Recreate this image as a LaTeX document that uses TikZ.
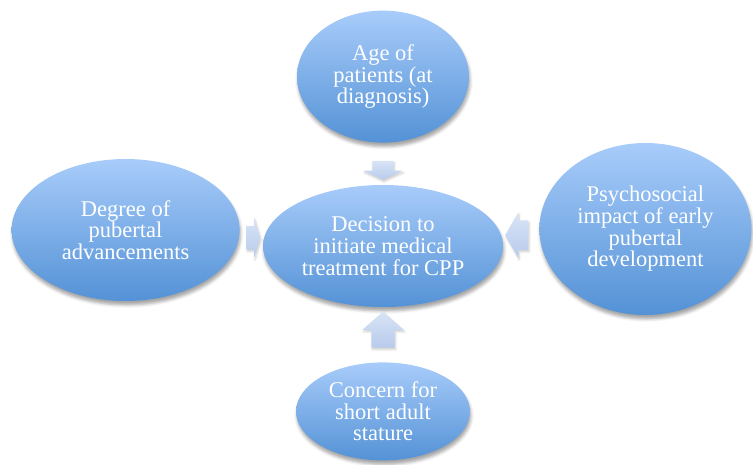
\documentclass[tikz,border=0pt]{standalone}
\usepackage{fontspec}
\setmainfont{Liberation Serif}
\usetikzlibrary{positioning, shapes.geometric, shapes.arrows, shadows.blur}
\definecolor{ellTop}{RGB}{168,204,250}
\definecolor{ellBot}{RGB}{84,146,214}
\definecolor{arrTop}{RGB}{216,228,246}
\definecolor{arrBot}{RGB}{184,203,236}
\tikzstyle{factor} = [ellipse, inner sep=0pt, align=center, text=white, top color=ellTop, bottom color=ellBot, font=\fontsize{22.5bp}{21.7bp}\selectfont, blur shadow={shadow xshift=1bp, shadow yshift=-4bp, shadow blur radius=3bp, shadow opacity=35}]
\tikzstyle{flow} = [single arrow, inner sep=0pt, top color=arrTop, bottom color=arrBot, blur shadow={shadow xshift=1bp, shadow yshift=-2bp, shadow blur radius=2bp, shadow opacity=20}]

\begin{document}
\begin{tikzpicture}
\useasboundingbox (0,0) rectangle (753bp,-465bp);
%ellipses
\node[factor, minimum width=240bp, minimum height=122bp](dec) at (383bp,-246bp){Decision to\\initiate medical\\treatment for CPP};
\node[factor, minimum width=172bp, minimum height=132bp, above = 42bp of dec](age){Age of\\patients (at\\diagnosis)};
\node[factor, minimum width=174bp, minimum height=98bp, below = 55bp of dec](concern){Concern for\\short adult\\stature};
\node[factor, minimum width=228bp, minimum height=142bp, left = 23bp of dec, yshift = 16bp](degree){Degree of\\pubertal\\advancements};
\node[factor, minimum width=212bp, minimum height=172bp, right = 36bp of dec, yshift = 17bp](psy){Psychosocial\\impact of early\\pubertal\\development};
%block arrows
\path (age) -- node[flow, shape border rotate=270, minimum height=19bp, inner xsep=10.5bp, single arrow head extend=9bp, single arrow tip angle=130, yshift=-4bp](arr1){} (dec);
\path (degree) -- node[flow, minimum height=14bp, inner ysep=11.5bp, single arrow head extend=8.5bp, single arrow tip angle=146](arr2){} (dec);
\path (psy) -- node[flow, shape border rotate=180, minimum height=23bp, inner ysep=14.5bp, single arrow head extend=8bp, single arrow tip angle=120, yshift=2bp](arr3){} (dec);
\path (concern) -- node[flow, shape border rotate=90, minimum height=36bp, inner xsep=11.5bp, single arrow head extend=9bp, single arrow tip angle=97](arr4){} (dec);
\end{tikzpicture}
\end{document}
